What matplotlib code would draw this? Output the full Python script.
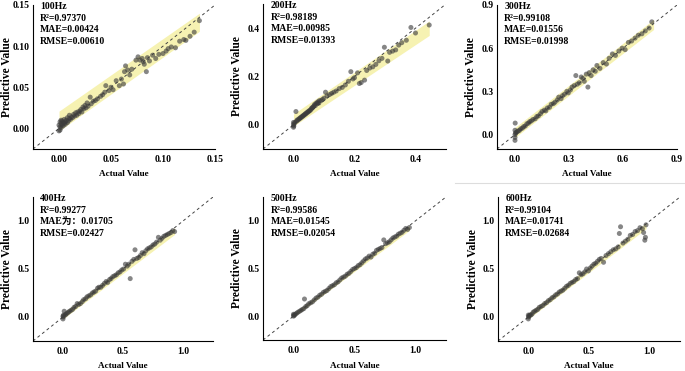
import numpy as np
import matplotlib
matplotlib.use("Agg")
import matplotlib.pyplot as plt
from matplotlib.lines import Line2D

plt.rcParams['font.family'] = ['Liberation Serif', 'Noto Sans CJK SC']
plt.rcParams['font.weight'] = 'bold'

titles = ["100Hz", "200Hz", "300Hz", "400Hz", "500Hz", "600Hz"]
r2 = ["0.97370", "0.98189", "0.99108", "0.99277", "0.99586", "0.99104"]
mae = ["MAE=0.00424", "MAE=0.00985", "MAE=0.01556", "MAE为：0.01705", "MAE=0.01545", "MAE=0.01741"]
rmse = ["0.00610", "0.01393", "0.01998", "0.02427", "0.02054", "0.02684"]

# 100Hz
a1 = [0.000, 0.000, 0.001, 0.001, 0.001, 0.002, 0.002, 0.002, 0.003, 0.003, 0.004, 0.004, 0.005, 0.005, 0.006,
      0.006, 0.007, 0.008, 0.008, 0.009, 0.010, 0.010, 0.011, 0.012, 0.013, 0.014, 0.015, 0.016, 0.017, 0.018,
      0.019, 0.020, 0.021, 0.022, 0.023, 0.024, 0.025, 0.026, 0.027, 0.028, 0.030, 0.031, 0.033, 0.035, 0.037,
      0.040, 0.042, 0.044, 0.045, 0.048, 0.050, 0.052, 0.055, 0.058, 0.060, 0.062, 0.063, 0.064, 0.066, 0.068,
      0.070, 0.074, 0.076, 0.078, 0.080, 0.081, 0.082, 0.084, 0.085, 0.087, 0.090, 0.093, 0.096, 0.100, 0.103,
      0.105, 0.108, 0.112, 0.116, 0.120, 0.122, 0.126, 0.130, 0.135]
p1 = [-0.003, 0.004, 0.002, 0.008, -0.002, 0.006, 0.001, 0.010, 0.004, 0.009, 0.003, 0.007, 0.006, 0.011, 0.008,
      0.005, 0.010, 0.007, 0.013, 0.009, 0.012, 0.016, 0.011, 0.014, 0.013, 0.017, 0.015, 0.019, 0.016, 0.020,
      0.018, 0.021, 0.023, 0.020, 0.026, 0.024, 0.028, 0.025, 0.031, 0.027, 0.038, 0.030, 0.033, 0.034, 0.036,
      0.039, 0.041, 0.044, 0.052, 0.046, 0.050, 0.047, 0.058, 0.052, 0.060, 0.054, 0.069, 0.076, 0.071, 0.065,
      0.072, 0.083, 0.087, 0.083, 0.085, 0.081, 0.078, 0.069, 0.086, 0.082, 0.089, 0.085, 0.090, 0.091, 0.094,
      0.097, 0.099, 0.098, 0.106, 0.108, 0.107, 0.112, 0.117, 0.131]

# 200Hz
a2 = [0.000, 0.000, 0.000, 0.001, 0.002, 0.005, 0.008, 0.010, 0.012, 0.015, 0.018, 0.020, 0.023, 0.025, 0.028,
      0.030, 0.033, 0.035, 0.038, 0.040, 0.043, 0.045, 0.048, 0.050, 0.053, 0.055, 0.058, 0.060, 0.062, 0.065,
      0.068, 0.070, 0.072, 0.075, 0.078, 0.080, 0.083, 0.085, 0.090, 0.095, 0.100, 0.105, 0.110, 0.118, 0.125,
      0.132, 0.140, 0.150, 0.160, 0.170, 0.180, 0.188, 0.195, 0.200, 0.210, 0.216, 0.222, 0.233, 0.240, 0.250,
      0.260, 0.270, 0.280, 0.290, 0.298, 0.309, 0.315, 0.325, 0.335, 0.345, 0.355, 0.370, 0.385, 0.400, 0.445]
p2 = [-0.010, 0.000, 0.010, -0.005, 0.005, 0.010, 0.055, 0.015, 0.020, 0.020, 0.025, 0.025, 0.030, 0.030, 0.035,
      0.035, 0.040, 0.040, 0.045, 0.045, 0.050, 0.050, 0.055, 0.055, 0.060, 0.060, 0.065, 0.070, 0.070, 0.075,
      0.080, 0.085, 0.080, 0.090, 0.090, 0.095, 0.090, 0.100, 0.100, 0.105, 0.110, 0.135, 0.120, 0.125, 0.130,
      0.135, 0.140, 0.150, 0.155, 0.165, 0.180, 0.220, 0.190, 0.195, 0.215, 0.171, 0.175, 0.185, 0.225, 0.235,
      0.240, 0.250, 0.265, 0.275, 0.321, 0.264, 0.300, 0.305, 0.310, 0.330, 0.340, 0.350, 0.403, 0.380, 0.413]

# 300Hz
a3 = [0.000, 0.000, 0.000, 0.000, 0.001, 0.003, 0.006, 0.012, 0.018, 0.025, 0.032, 0.041, 0.048, 0.057, 0.066,
      0.075, 0.082, 0.091, 0.100, 0.112, 0.121, 0.130, 0.142, 0.150, 0.163, 0.171, 0.180, 0.192, 0.201, 0.213,
      0.222, 0.235, 0.243, 0.256, 0.264, 0.275, 0.288, 0.296, 0.308, 0.317, 0.329, 0.338, 0.346, 0.357, 0.368,
      0.377, 0.385, 0.396, 0.405, 0.412, 0.423, 0.434, 0.446, 0.455, 0.472, 0.490, 0.508, 0.523, 0.541, 0.558,
      0.577, 0.595, 0.612, 0.630, 0.648, 0.667, 0.685, 0.705, 0.724, 0.745, 0.760]
p3 = [-0.040, -0.020, 0.000, 0.030, 0.080, 0.010, 0.015, 0.020, 0.025, 0.030, 0.040, 0.045, 0.055, 0.060, 0.075,
      0.080, 0.090, 0.095, 0.105, 0.110, 0.125, 0.130, 0.145, 0.160, 0.170, 0.165, 0.185, 0.190, 0.210, 0.215,
      0.225, 0.240, 0.260, 0.250, 0.270, 0.280, 0.300, 0.290, 0.310, 0.330, 0.340, 0.410, 0.350, 0.360, 0.400,
      0.390, 0.370, 0.420, 0.330, 0.430, 0.410, 0.450, 0.440, 0.480, 0.460, 0.500, 0.490, 0.530, 0.560, 0.550,
      0.580, 0.600, 0.590, 0.640, 0.650, 0.670, 0.690, 0.700, 0.720, 0.740, 0.783]

# 400Hz
a4 = [0.000, 0.000, 0.002, 0.005, 0.010, 0.018, 0.025, 0.035, 0.045, 0.055, 0.068, 0.080, 0.092, 0.105, 0.118,
      0.130, 0.145, 0.160, 0.172, 0.188, 0.200, 0.215, 0.230, 0.245, 0.258, 0.272, 0.288, 0.300, 0.315, 0.330,
      0.345, 0.360, 0.372, 0.388, 0.400, 0.415, 0.430, 0.445, 0.460, 0.475, 0.490, 0.505, 0.520, 0.535, 0.548,
      0.560, 0.575, 0.590, 0.600, 0.615, 0.630, 0.645, 0.660, 0.675, 0.690, 0.705, 0.720, 0.735, 0.750, 0.765,
      0.780, 0.795, 0.810, 0.825, 0.840, 0.855, 0.870, 0.885, 0.900, 0.915, 0.930]
p4 = [-0.02, 0.01, 0.00, 0.02, 0.06, 0.02, 0.03, 0.04, 0.05, 0.06, 0.07, 0.08, 0.10, 0.11, 0.14,
      0.13, 0.14, 0.16, 0.18, 0.19, 0.21, 0.22, 0.23, 0.25, 0.26, 0.27, 0.30, 0.31, 0.31, 0.33,
      0.35, 0.37, 0.36, 0.39, 0.40, 0.42, 0.43, 0.44, 0.46, 0.47, 0.49, 0.50, 0.55, 0.53, 0.55,
      0.40, 0.58, 0.60, 0.70, 0.61, 0.62, 0.64, 0.67, 0.66, 0.69, 0.71, 0.72, 0.73, 0.75, 0.76,
      0.78, 0.83, 0.80, 0.82, 0.84, 0.85, 0.86, 0.87, 0.88, 0.90, 0.89]

# 500Hz
a5 = [0.000, 0.000, 0.003, 0.008, 0.015, 0.025, 0.035, 0.048, 0.060, 0.072, 0.085, 0.090, 0.100, 0.112, 0.125,
      0.140, 0.155, 0.170, 0.185, 0.200, 0.215, 0.230, 0.245, 0.260, 0.275, 0.290, 0.305, 0.320, 0.335, 0.350,
      0.365, 0.380, 0.395, 0.410, 0.425, 0.440, 0.455, 0.470, 0.485, 0.500, 0.515, 0.530, 0.545, 0.560, 0.575,
      0.590, 0.605, 0.620, 0.635, 0.650, 0.665, 0.680, 0.695, 0.710, 0.725, 0.740, 0.755, 0.770, 0.785, 0.800,
      0.815, 0.830, 0.845, 0.860, 0.875, 0.890, 0.905, 0.920, 0.935, 0.950]
p5 = [0.00, 0.02, 0.01, 0.01, 0.02, 0.03, 0.04, 0.05, 0.06, 0.07, 0.08, 0.18, 0.10, 0.11, 0.13,
      0.14, 0.15, 0.17, 0.19, 0.20, 0.22, 0.23, 0.25, 0.26, 0.27, 0.29, 0.31, 0.32, 0.33, 0.35,
      0.36, 0.38, 0.40, 0.41, 0.42, 0.44, 0.45, 0.47, 0.49, 0.50, 0.51, 0.53, 0.54, 0.56, 0.58,
      0.60, 0.61, 0.63, 0.62, 0.65, 0.66, 0.69, 0.70, 0.71, 0.72, 0.80, 0.76, 0.77, 0.78, 0.80,
      0.82, 0.83, 0.84, 0.86, 0.87, 0.88, 0.90, 0.92, 0.91, 0.93]

# 600Hz
a6 = [0.000, 0.000, 0.002, 0.006, 0.012, 0.020, 0.030, 0.040, 0.052, 0.065, 0.078, 0.090, 0.105, 0.120, 0.135,
      0.150, 0.165, 0.180, 0.195, 0.210, 0.225, 0.240, 0.255, 0.270, 0.285, 0.300, 0.315, 0.330, 0.345, 0.360,
      0.375, 0.390, 0.405, 0.420, 0.435, 0.450, 0.465, 0.480, 0.495, 0.510, 0.525, 0.540, 0.555, 0.570, 0.585,
      0.600, 0.620, 0.640, 0.660, 0.680, 0.700, 0.720, 0.740, 0.750, 0.760, 0.780, 0.800, 0.820, 0.840, 0.860,
      0.880, 0.900, 0.920, 0.940, 0.950, 0.960, 0.965, 0.970]
p6 = [-0.02, 0.02, 0.00, 0.01, 0.02, 0.02, 0.03, 0.05, 0.06, 0.07, 0.08, 0.10, 0.11, 0.12, 0.14,
      0.15, 0.17, 0.18, 0.20, 0.21, 0.23, 0.24, 0.26, 0.27, 0.28, 0.30, 0.32, 0.33, 0.35, 0.36,
      0.37, 0.39, 0.40, 0.46, 0.44, 0.45, 0.47, 0.50, 0.48, 0.51, 0.53, 0.55, 0.56, 0.58, 0.60,
      0.61, 0.57, 0.64, 0.66, 0.68, 0.70, 0.71, 0.73, 0.87, 0.94, 0.77, 0.79, 0.81, 0.85, 0.86,
      0.89, 0.90, 0.93, 0.92, 0.88, 0.80, 0.83, 0.96]

actual = [a1, a2, a3, a4, a5, a6]
pred = [p1, p2, p3, p4, p5, p6]

# yellow band ends: x start/end, lower and upper edges
band_x = [[0, 0.135], [0, 0.445], [0, 0.77], [0, 0.93], [0, 0.95], [0, 0.97]]
band_lo = [[-0.003, 0.118], [-0.005, 0.37], [-0.02, 0.73], [-0.02, 0.86], [-0.01, 0.90], [-0.02, 0.92]]
band_hi = [[0.021, 0.140], [0.045, 0.43], [0.05, 0.80], [0.04, 0.93], [0.03, 0.95], [0.04, 0.98]]

lims = [(-0.025, 0.15), (-0.1, 0.5), (-0.1, 0.9), (-0.25, 1.25), (-0.25, 1.25), (-0.25, 1.25)]
ticks = [[0, 0.05, 0.10, 0.15], [0, 0.2, 0.4], [0, 0.3, 0.6, 0.9], [0, 0.5, 1.0], [0, 0.5, 1.0], [0, 0.5, 1.0]]
tick_labels = [["0.00", "0.05", "0.10", "0.15"], ["0.0", "0.2", "0.4"], ["0.0", "0.3", "0.6", "0.9"],
               ["0.0", "0.5", "1.0"], ["0.0", "0.5", "1.0"], ["0.0", "0.5", "1.0"]]

W, H = 685, 371
boxes = [(33, 215, 5, 149), (263, 446, 4, 149), (497, 677, 5, 149),
         (33, 213, 197, 341), (263, 446, 197, 340), (498, 680, 197, 341)]

fig = plt.figure(figsize=(W / 100, H / 100), dpi=100)

for i in range(6):
    l, r, t, b = boxes[i]
    w, h = r - l, b - t
    ax = fig.add_axes([l / W, 1 - b / H, w / W, h / H])
    lo, hi = lims[i]
    ax.fill_between(band_x[i], band_lo[i], band_hi[i], color='#f6f2b2', lw=0, zorder=1)
    ax.plot([lo, hi], [lo, hi], ls=(0, (3, 3)), color='#444444', lw=0.7, zorder=2)
    ax.scatter(np.array(actual[i]), np.array(pred[i]), s=13, color='#3c3c3c', alpha=0.62,
               edgecolors='none', zorder=3)
    ax.set_xlim(lo, hi)
    ax.set_ylim(lo, hi)
    ax.set_xticks(ticks[i])
    ax.set_xticklabels(tick_labels[i])
    ax.set_yticks(ticks[i])
    ax.set_yticklabels(tick_labels[i])
    ax.tick_params(length=0, labelsize=7)
    ax.tick_params(axis='x', pad=4)
    ax.tick_params(axis='y', pad=2.5)
    for s in ['top', 'right']:
        ax.spines[s].set_visible(False)
    for s in ['left', 'bottom']:
        ax.spines[s].set_linewidth(0.8)
    ax.set_xlabel("Actual Value", fontsize=6.6, fontweight='bold')
    ax.set_ylabel("Predictive Value", fontsize=8.3, fontweight='bold')
    ax.xaxis.set_label_coords(0.5, -21.5 / h)
    ax.yaxis.set_label_coords(-19.5 / w, 0.5)
    txt = "{}\nR²={}\n{}\nRMSE={}".format(titles[i], r2[i], mae[i], rmse[i])
    ax.text(0.04, 1.02, txt, transform=ax.transAxes, va='top', ha='left',
            fontsize=7, fontweight='bold', linespacing=1.38)

fig.add_artist(Line2D([455 / W, 1], [1 - 183 / H, 1 - 183 / H], color='#dddddd', lw=0.8))

fig.savefig("out.png", dpi=100)
